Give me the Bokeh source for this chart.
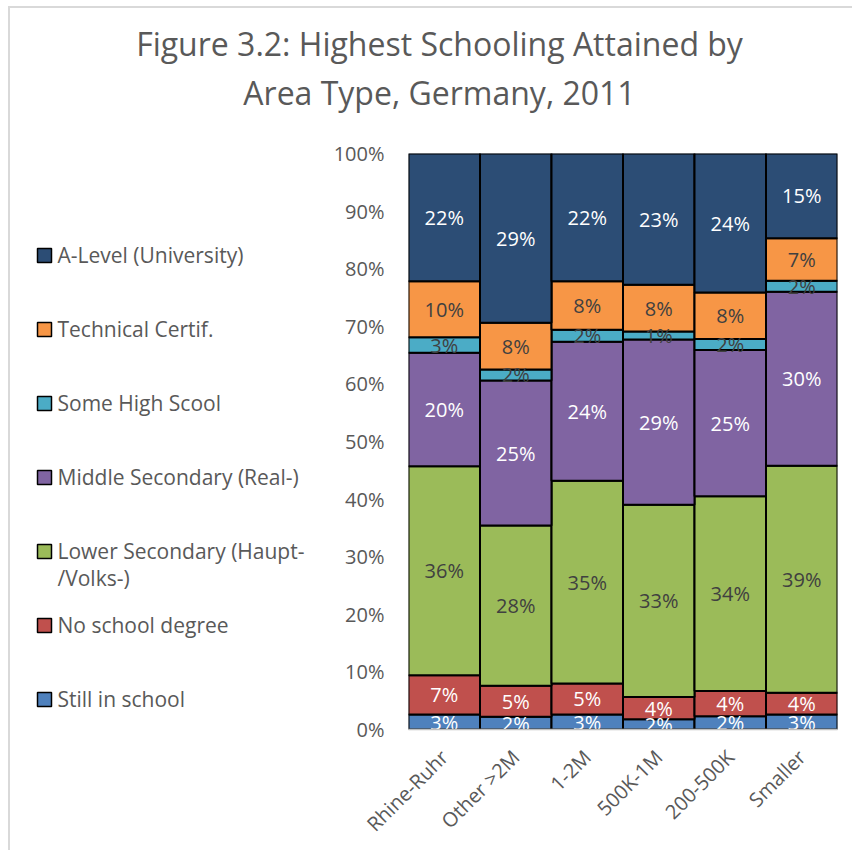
import math
from bokeh.plotting import figure
from bokeh.layouts import column, row
from bokeh.models import (ColumnDataSource, Range1d, NumeralTickFormatter, Label, FixedTicker)
from bokeh.core.properties import value
from bokeh.embed import file_html
from bokeh.resources import INLINE

# ---------------- data ----------------
categories = ["Rhine-Ruhr", "Other >2M", "1-2M", "500K-1M", "200-500K", "Smaller"]
series_names = ["Still in school", "No school degree", "Lower Secondary (Haupt-\n/Volks-)",
                "Middle Secondary (Real-)", "Some High Scool", "Technical Certif.",
                "A-Level (University)"]
still_in_school = [2.6, 2.2, 2.6, 1.8, 2.3, 2.6]
no_school_degree = [6.8, 5.4, 5.4, 3.85, 4.4, 3.8]
lower_secondary = [36.3, 27.8, 35.2, 33.35, 33.8, 39.4]
middle_secondary = [19.7, 25.2, 24.1, 28.7, 25.4, 30.2]
some_high_school = [2.7, 1.9, 2.1, 1.4, 1.9, 1.9]
technical_certif = [9.7, 8.1, 8.4, 8.1, 8.05, 7.4]
a_level = [22.2, 29.4, 22.2, 22.8, 24.15, 14.7]
y_ticks = [0, 0.1, 0.2, 0.3, 0.4, 0.5, 0.6, 0.7, 0.8, 0.9, 1.0]
title_lines = ["Figure 3.2: Highest Schooling Attained by", "Area Type, Germany, 2011"]

series = [still_in_school, no_school_degree, lower_secondary, middle_secondary,
          some_high_school, technical_certif, a_level]
colors = ["#4F81BD", "#C0504D", "#9BBB59", "#8064A2", "#4BACC6", "#F79646", "#2C4D75"]
label_colors = ["white", "white", "#404040", "white", "#404040", "#404040", "white"]

FONT = "Open Sans"
GREY = "#595959"
BORDER = "#d9d9d9"

# ---------------- layout sizes (page pixels) ----------------
OX, OY = 10, 8                 # content origin (after css margin + border)
W_TOTAL = 842
T_H = 122                      # title strip height
LEG_W = 310                    # legend strip width
ROW_H = 720
CH_W = W_TOTAL - LEG_W
F_LEFT, F_RIGHT, F_TOP, F_BOTTOM = 408, 837, 153, 729   # plot frame

BT = F_TOP - (OY + T_H)
BB = (OY + T_H + ROW_H) - F_BOTTOM


def blank(width, height, xr, yr, **kw):
    f = figure(width=width, height=height, x_range=xr, y_range=yr,
               output_backend="svg", toolbar_location=None,
               x_axis_location=None, y_axis_location=None, **kw)
    f.xgrid.grid_line_color = None
    f.ygrid.grid_line_color = None
    f.outline_line_color = None
    return f


# ---------------- title strip ----------------
tf = blank(W_TOTAL, T_H, Range1d(OX, OX + W_TOTAL), Range1d(OY + T_H, OY),
           min_border_left=0, min_border_right=0, min_border_top=0, min_border_bottom=0)
for i, t in enumerate(title_lines):
    tf.add_layout(Label(x=439, y=43 + 48.5 * i, text=t, text_align="center",
                        text_baseline="middle", text_font=FONT,
                        text_font_size="32px", text_color=GREY))

# ---------------- legend strip ----------------
lf = blank(LEG_W, ROW_H, Range1d(OX, OX + LEG_W), Range1d(F_BOTTOM, F_TOP),
           min_border_left=0, min_border_right=0, min_border_top=BT, min_border_bottom=BB)
order = list(range(len(series) - 1, -1, -1))
sq_y, sq_c, tx_y, tx_t = [], [], [], []
for n, j in enumerate(order):
    yc = 254 + 74 * n
    sq_y.append(yc + 1)
    sq_c.append(colors[j])
    for k, line in enumerate(series_names[j].split("\n")):
        tx_y.append(yc + 27 * k)
        tx_t.append(line)
lf.rect(x=[44] * len(sq_y), y=sq_y, width=14, height=14, fill_color=sq_c,
        line_color="black", line_width=1.5)
lf.text(x=[57] * len(tx_y), y=tx_y, text=tx_t, text_font=value(FONT),
        text_font_size="21px", text_color=GREY, text_align="left",
        text_baseline="middle")

# ---------------- chart ----------------
keys = ["s%d" % i for i in range(len(series))]
data = {"cat": categories}
for k, s in zip(keys, series):
    data[k] = [v / 100.0 for v in s]
src = ColumnDataSource(data)

p = figure(x_range=categories, y_range=Range1d(0, 1), width=CH_W, height=ROW_H,
           output_backend="svg", toolbar_location=None,
           min_border_left=F_LEFT - (OX + LEG_W), min_border_right=(OX + W_TOTAL) - F_RIGHT,
           min_border_top=BT, min_border_bottom=BB)

renderers = p.vbar_stack(keys, x="cat", width=1.0, source=src,
                         fill_color=colors, line_color="black", line_width=2)

lx, ly, lt, lc = [], [], [], []
for i, c in enumerate(categories):
    base = 0.0
    for j, s in enumerate(series):
        v = s[i] / 100.0
        lx.append(c)
        ly.append(base + v / 2)
        lt.append("%d%%" % round(s[i]))
        lc.append(label_colors[j])
        base += v
lsrc = ColumnDataSource(dict(x=lx, y=ly, t=lt, c=lc))
p.text(x="x", y="y", text="t", text_color="c", source=lsrc,
       text_font=value(FONT), text_font_size="20px",
       text_align="center", text_baseline="middle")

p.xgrid.grid_line_color = None
p.ygrid.grid_line_color = None
p.outline_line_color = None

p.yaxis.ticker = FixedTicker(ticks=y_ticks)
p.yaxis.formatter = NumeralTickFormatter(format="0%")
p.yaxis.axis_line_color = None
p.yaxis.major_tick_line_color = None
p.yaxis.minor_tick_line_color = None
p.yaxis.major_label_standoff = 18
p.yaxis.major_label_text_font = FONT
p.yaxis.major_label_text_font_size = "20px"
p.yaxis.major_label_text_color = GREY

p.xaxis.axis_line_color = "#bfbfbf"
p.xaxis.axis_line_width = 1.5
p.xaxis.major_tick_line_color = None
p.xaxis.minor_tick_line_color = None
p.xaxis.major_label_orientation = math.pi / 4
p.xaxis.major_label_text_font = FONT
p.xaxis.major_label_text_font_size = "20px"
p.xaxis.major_label_text_color = GREY
p.xaxis.major_label_standoff = 18

layout = column(tf, row(lf, p),
                styles={"margin-left": "8px", "margin-top": "6px",
                        "border-left": "2px solid " + BORDER,
                        "border-top": "2px solid " + BORDER})
open("out.html", "w").write(file_html(layout, INLINE))
